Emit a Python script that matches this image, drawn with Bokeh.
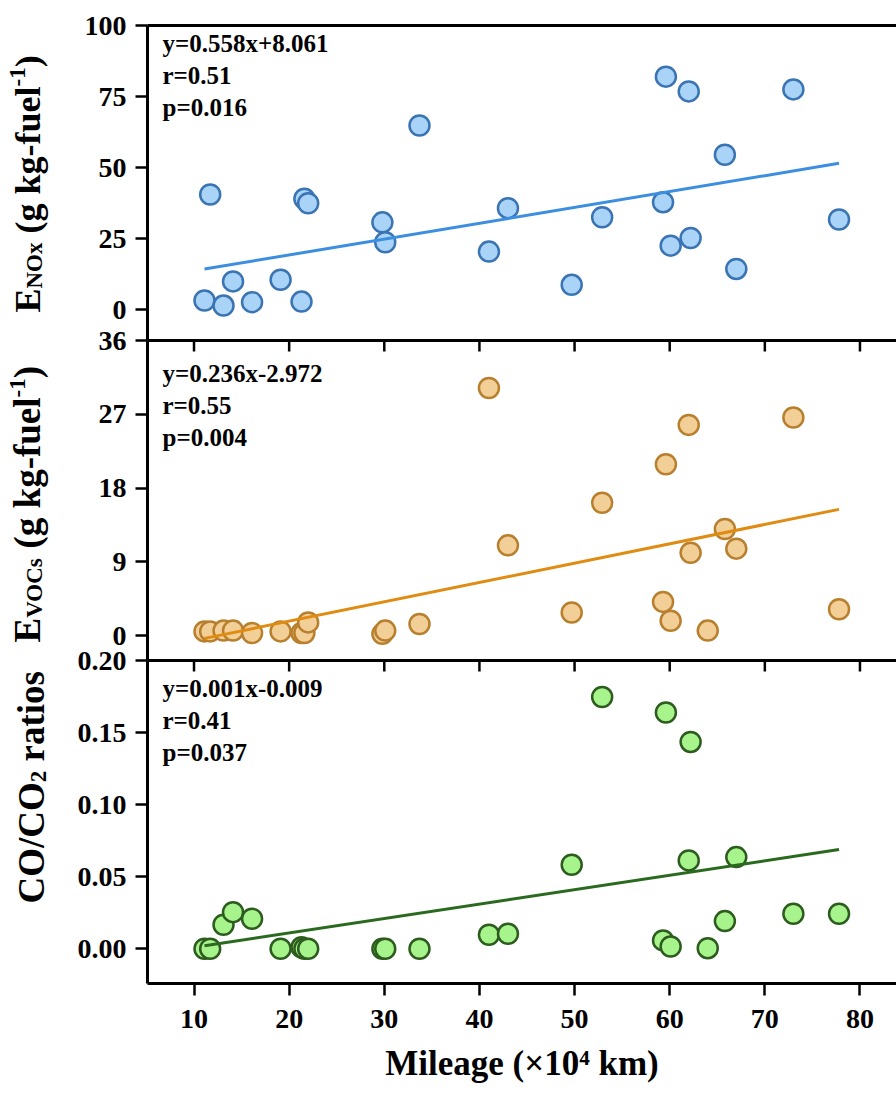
from bokeh.plotting import figure
from bokeh.layouts import column, row
from bokeh.models import (LinearAxis, FixedTicker, Label, Range1d,
                          NumeralTickFormatter, ColumnDataSource)
from bokeh.core.properties import value
from bokeh.embed import file_html
from bokeh.resources import INLINE

FONT = "Liberation Serif"

# ---------------- data ----------------
mileage = [11.1, 11.7, 13.1, 14.1, 16.1, 19.1, 21.3, 21.6, 22.0, 29.8, 30.1, 33.7,
           41.0, 43.0, 49.7, 52.9, 59.3, 59.6, 60.1, 62.0, 62.2, 64.0, 65.8, 67.0,
           73.0, 77.8]
e_nox = [3.2, 40.5, 1.4, 9.9, 2.6, 10.5, 2.8, 39.0, 37.4, 30.7, 23.7, 64.8,
         20.4, 35.7, 8.7, 32.5, 37.8, 82.0, 22.5, 76.8, 25.2, float("nan"), 54.5, 14.3,
         77.5, 31.7]
e_vocs = [0.5, 0.5, 0.6, 0.6, 0.3, 0.5, 0.3, 0.3, 1.6, 0.2, 0.6, 1.4,
          30.2, 11.0, 2.8, 16.2, 4.1, 20.9, 1.8, 25.7, 10.1, 0.6, 13.0, 10.6,
          26.6, 3.2]
co_co2 = [0.0, 0.0, 0.0167, 0.0254, 0.0208, 0.0, 0.001, 0.0, 0.0, 0.0, 0.0, 0.0,
          0.0097, 0.0104, 0.0583, 0.1747, 0.0058, 0.1639, 0.0016, 0.0613, 0.1435, 0.0004,
          0.0192, 0.0636, 0.0243, 0.0243]

fit_slope = [0.558, 0.236, 0.001]
fit_intercept = [8.061, -2.972, -0.009]
stats_nox = ["y=0.558x+8.061", "r=0.51", "p=0.016"]
stats_vocs = ["y=0.236x-2.972", "r=0.55", "p=0.004"]
stats_co = ["y=0.001x-0.009", "r=0.41", "p=0.037"]

x_ticks = [10, 20, 30, 40, 50, 60, 70, 80]
nox_ticks = [0, 25, 50, 75, 100]
vocs_ticks = [0, 9, 18, 27, 36]
co_ticks = [0.0, 0.05, 0.10, 0.15, 0.20]

x_title = "Mileage (\u00d710\u2074 km)"
title_nox = [("E", "main"), ("NOx", "sub"), (" (g kg-fuel", "main"), ("-1", "sup"), (")", "main")]
title_vocs = [("E", "main"), ("VOCs", "sub"), (" (g kg-fuel", "main"), ("-1", "sup"), (")", "main")]
title_co = [("CO/CO", "main"), ("2", "sub"), (" ratios", "main")]

# ---------------- layout geometry (page pixels) ----------------
TOTAL_H = 1094
STRIP_W = 70
W = 896 - STRIP_W
FRAME_LEFT_PAGE = 147
FRAME_LEFT = FRAME_LEFT_PAGE - STRIP_W
X_RANGE = (5.11, 83.84)
PX_PER_X = (896 - FRAME_LEFT_PAGE) / (X_RANGE[1] - X_RANGE[0])

# Times-bold advance widths (per em) for the manual rich-text layout
ADV = {' ': .25, '(': .333, ')': .333, '-': .333, '/': .278, '.': .25,
       'E': .667, 'N': .722, 'O': .778, 'x': .5, 'V': .722, 'C': .722, 's': .389,
       'g': .5, 'k': .556, 'f': .333, 'u': .556, 'e': .444, 'l': .278, 'r': .444,
       'a': .5, 't': .333, 'i': .278, 'o': .5}


def text_len(t, size):
    return sum(ADV.get(c, .5) for c in t) * size


def xpos(page_x):
    return X_RANGE[0] + (page_x - FRAME_LEFT_PAGE) / PX_PER_X


class Panel:
    def __init__(self, yr, ftop, fh, btop, bbot):
        self.yr, self.ftop, self.fh, self.btop, self.bbot = yr, ftop, fh, btop, bbot

    def ypos(self, page_y):
        y0, y1 = self.yr
        return y1 - (page_y - self.ftop) / self.fh * (y1 - y0)

    def dy(self, px):
        return px / self.fh * (self.yr[1] - self.yr[0])


def make_fig(panel, yticks, fill, edge, linec, yvals, slope, icpt, stats, stat_off,
             top_ticks, bottom_axis, yfmt=None):
    p = figure(width=W, height=panel.btop + panel.fh + panel.bbot,
               x_range=Range1d(*X_RANGE), y_range=Range1d(*panel.yr),
               output_backend="svg", toolbar_location=None, x_axis_location=None,
               min_border_left=FRAME_LEFT, min_border_right=0,
               min_border_top=panel.btop, min_border_bottom=panel.bbot)
    p.outline_line_color = None
    p.xgrid.visible = False
    p.ygrid.visible = False
    p.border_fill_color = None
    p.background_fill_color = "white"

    ya = p.yaxis[0]
    ya.ticker = FixedTicker(ticks=yticks)
    if yfmt:
        ya.formatter = yfmt
    ya.axis_line_width = 3
    ya.axis_line_color = "black"
    ya.major_tick_out = 12
    ya.major_tick_in = 0
    ya.major_tick_line_width = 2.5
    ya.major_tick_line_color = "black"
    ya.minor_tick_out = 0
    ya.minor_tick_in = 0
    ya.major_label_text_font = FONT
    ya.major_label_text_font_style = "bold"
    ya.major_label_text_font_size = "28px"
    ya.major_label_text_color = "black"
    ya.major_label_standoff = 9

    # top border line
    ta = LinearAxis(ticker=FixedTicker(ticks=[]), axis_line_width=3, axis_line_color="black",
                    major_tick_in=0, major_tick_out=0, minor_tick_in=0, minor_tick_out=0,
                    major_label_standoff=0)
    p.add_layout(ta, "above")
    if top_ticks:
        # ticks of the panel above, pointing down into this panel
        n = len(x_ticks)
        p.segment(x0=x_ticks, y0=[panel.yr[1]] * n, x1=x_ticks,
                  y1=[panel.yr[1] - panel.dy(11)] * n, line_color="black", line_width=2.5)

    if bottom_axis:
        ba = LinearAxis(ticker=FixedTicker(ticks=x_ticks), axis_line_width=3,
                        axis_line_color="black",
                        major_tick_out=12, major_tick_in=0, major_tick_line_width=2.5,
                        major_tick_line_color="black",
                        minor_tick_in=0, minor_tick_out=0,
                        major_label_text_font=FONT, major_label_text_font_style="bold",
                        major_label_text_font_size="28px", major_label_standoff=14,
                        major_label_text_color="black",
                        axis_label=x_title, axis_label_text_font=FONT,
                        axis_label_text_font_style="bold", axis_label_text_color="black",
                        axis_label_text_font_size="35px", axis_label_standoff=13)
        p.add_layout(ba, "below")

    src = ColumnDataSource(dict(x=mileage, y=yvals))
    p.scatter(x="x", y="y", source=src, marker="circle", size=20,
              fill_color=fill, line_color=edge, line_width=2.5)
    fx = [min(mileage), max(mileage)]
    fy = [slope * v + icpt for v in fx]
    p.line(fx, fy, line_color=linec, line_width=3)

    for i, s in enumerate(stats):
        p.add_layout(Label(x=xpos(162), y=panel.ypos(panel.ftop + stat_off + i * 32),
                           text=s, text_font=FONT, text_font_style="bold",
                           text_font_size="25px", text_baseline="middle",
                           text_align="left", text_color="black"))
    return p


P1 = Panel((-10.9, 100), 25, 315, 25, 0)
P2 = Panel((-3.05, 36), 340, 320, 20, 0)
P3 = Panel((-0.0241, 0.20), 660, 323, 20, TOTAL_H - 983)

p1 = make_fig(P1, nox_ticks, "#a9d4f7", "#3b74b3", "#3b8ee0", e_nox,
              fit_slope[0], fit_intercept[0], stats_nox, 18, False, False)
p2 = make_fig(P2, vocs_ticks, "#f3cf98", "#b8802e", "#e08c12", e_vocs,
              fit_slope[1], fit_intercept[1], stats_vocs, 33, True, False)
p3 = make_fig(P3, co_ticks, "#a8f48c", "#2c5c1e", "#2a6a1f", co_co2,
              fit_slope[2], fit_intercept[2], stats_co, 28, True, True,
              yfmt=NumeralTickFormatter(format="0.00"))
p2.margin = (-20, 0, 0, 0)
p3.margin = (-20, 0, 0, 0)

# ---------------- strip with rotated y-axis titles ----------------
strip = figure(width=STRIP_W, height=TOTAL_H, x_range=Range1d(0, STRIP_W),
               y_range=Range1d(0, TOTAL_H), output_backend="svg", toolbar_location=None,
               x_axis_location=None, y_axis_location=None,
               min_border_left=0, min_border_right=0, min_border_top=0, min_border_bottom=0)
strip.outline_line_color = None
strip.border_fill_color = None
strip.background_fill_color = None
strip.xgrid.visible = False
strip.ygrid.visible = False


def draw_title(pieces, start_y, base_x, main, sub):
    ycur = start_y
    for txt, kind in pieces:
        size = main if kind == "main" else sub
        lead = len(txt) - len(txt.lstrip())
        ycur -= lead * ADV[' '] * size
        txt = txt.lstrip()
        shift = {"main": 0, "sub": 7, "sup": -10}[kind]
        strip.text(x=[base_x + shift], y=[TOTAL_H - ycur], text=[txt],
                   angle=90, angle_units="deg", text_align="left",
                   text_baseline="alphabetic", text_font=value(FONT),
                   text_font_style="bold", text_font_size=value(f"{size}px"),
                   text_color="black")
        ycur -= text_len(txt, size)


draw_title(title_nox, 312, 27, 36, 23)
draw_title(title_vocs, 642, 27, 37, 23)
draw_title(title_co, 903, 31, 37, 23)

layout = row(strip, column(p1, p2, p3, spacing=0), spacing=0)
open("out.html", "w").write(file_html(layout, INLINE, "chart"))
